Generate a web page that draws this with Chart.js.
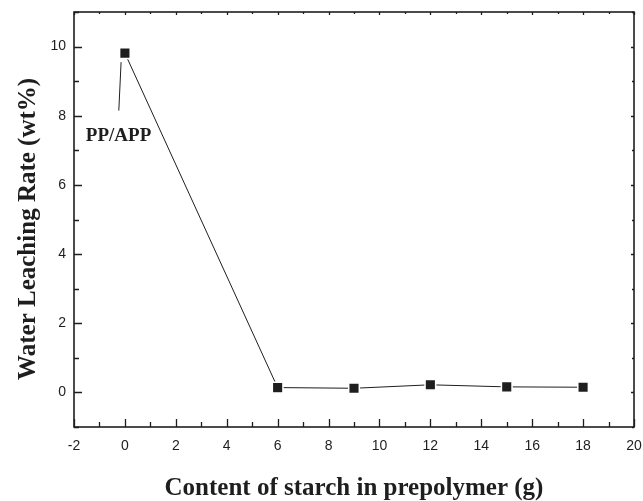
<!DOCTYPE html>
<html>
<head>
<meta charset="utf-8">
<script src="https://cdn.jsdelivr.net/npm/chart.js@4"></script>
<style>
html,body{margin:0;padding:0;background:#fff;}
#wrap{width:643px;height:501px;}
</style>
</head>
<body>
<div id="wrap"><canvas id="c" width="643" height="501"></canvas></div>
<script>
const starchContent = [0, 6, 9, 12, 15, 18];
const leachingRate = [9.81, 0.14, 0.12, 0.22, 0.16, 0.15];
const xTickValues = [-2, 0, 2, 4, 6, 8, 10, 12, 14, 16, 18, 20];
const yTickValues = [0, 2, 4, 6, 8, 10];
const xMinorValues = [-1, 1, 3, 5, 7, 9, 11, 13, 15, 17, 19];
const yMinorValues = [-1, 1, 3, 5, 7, 9, 11];
const annotationText = 'PP/APP';
const annotationLine = [[-0.15, 9.55], [-0.24, 8.15]];
const annotationPos = [-0.25, 7.4];

const ink = '#1e1e1e';

const framePlugin = {
  id: 'frame',
  afterDatasetsDraw(chart) {
    const ctx = chart.ctx;
    const a = chart.chartArea;
    const xs = chart.scales.x, ys = chart.scales.y;
    ctx.save();
    ctx.strokeStyle = ink;
    ctx.lineWidth = 1.6;
    ctx.strokeRect(a.left, a.top, a.right - a.left, a.bottom - a.top);
    ctx.lineWidth = 1.3;
    ctx.beginPath();
    xTickValues.forEach(v => {
      const px = Math.round(xs.getPixelForValue(v)) + 0.5;
      ctx.moveTo(px, a.bottom); ctx.lineTo(px, a.bottom - 8);
      ctx.moveTo(px, a.top); ctx.lineTo(px, a.top + 3);
    });
    xMinorValues.forEach(v => {
      const px = Math.round(xs.getPixelForValue(v)) + 0.5;
      ctx.moveTo(px, a.bottom); ctx.lineTo(px, a.bottom - 5);
      ctx.moveTo(px, a.top); ctx.lineTo(px, a.top + 2);
    });
    yTickValues.forEach(v => {
      const py = Math.round(ys.getPixelForValue(v)) + 0.5;
      ctx.moveTo(a.left, py); ctx.lineTo(a.left + 8, py);
      ctx.moveTo(a.right, py); ctx.lineTo(a.right - 3, py);
    });
    yMinorValues.forEach(v => {
      const py = Math.round(ys.getPixelForValue(v)) + 0.5;
      ctx.moveTo(a.left, py); ctx.lineTo(a.left + 5, py);
      ctx.moveTo(a.right, py); ctx.lineTo(a.right - 2, py);
    });
    ctx.stroke();
    ctx.lineWidth = 1;
    ctx.beginPath();
    ctx.moveTo(xs.getPixelForValue(annotationLine[0][0]), ys.getPixelForValue(annotationLine[0][1]));
    ctx.lineTo(xs.getPixelForValue(annotationLine[1][0]), ys.getPixelForValue(annotationLine[1][1]));
    ctx.stroke();
    ctx.fillStyle = ink;
    ctx.font = 'bold 19px "Liberation Serif", "Times New Roman", serif';
    ctx.textAlign = 'center';
    ctx.textBaseline = 'middle';
    ctx.fillText(annotationText, xs.getPixelForValue(annotationPos[0]), ys.getPixelForValue(annotationPos[1]));
    ctx.restore();
  }
};

function noPad(s) { s.paddingTop = 0; s.paddingBottom = 0; s.paddingLeft = 0; s.paddingRight = 0; }

new Chart(document.getElementById('c'), {
  type: 'line',
  data: {
    datasets: [{
      data: starchContent.map((x, i) => ({x: x, y: leachingRate[i]})),
      borderColor: ink,
      borderWidth: 1,
      tension: 0,
      pointStyle: 'rect',
      pointRadius: 7.5,
      pointBackgroundColor: ink,
      pointBorderColor: '#ffffff',
      pointBorderWidth: 1.5,
      fill: false
    }]
  },
  options: {
    responsive: false,
    animation: false,
    devicePixelRatio: 1,
    layout: {padding: {top: 12, right: 8, left: 0, bottom: 0}},
    plugins: {legend: {display: false}, tooltip: {enabled: false}},
    scales: {
      x: {
        type: 'linear',
        min: -2, max: 20,
        afterBuildTicks: s => { s.ticks = xTickValues.map(v => ({value: v})); },
        afterFit: s => { s.height = 74; noPad(s); },
        grid: {display: false, drawTicks: false},
        border: {display: false},
        ticks: {color: ink, padding: 11, font: {family: '"Liberation Sans", Arial, sans-serif', size: 14}, maxRotation: 0, autoSkip: false},
        title: {display: true, text: 'Content of starch in prepolymer (g)', color: ink,
          font: {family: '"Liberation Serif", "Times New Roman", serif', size: 25, weight: 'bold', lineHeight: 1.0},
          padding: {top: 18, bottom: 0}}
      },
      y: {
        type: 'linear',
        min: -1, max: 11,
        afterBuildTicks: s => { s.ticks = yTickValues.map(v => ({value: v})); },
        afterFit: s => { s.width = 74; noPad(s); },
        grid: {display: false, drawTicks: false},
        border: {display: false},
        ticks: {color: ink, padding: 8, font: {family: '"Liberation Sans", Arial, sans-serif', size: 14}},
        title: {display: true, text: 'Water Leaching Rate (wt%)\u00a0\u00a0\u00a0', color: ink,
          font: {family: '"Liberation Serif", "Times New Roman", serif', size: 25, weight: 'bold'},
          padding: {top: 14, bottom: 0}}
      }
    }
  },
  plugins: [framePlugin]
});
</script>
</body>
</html>
